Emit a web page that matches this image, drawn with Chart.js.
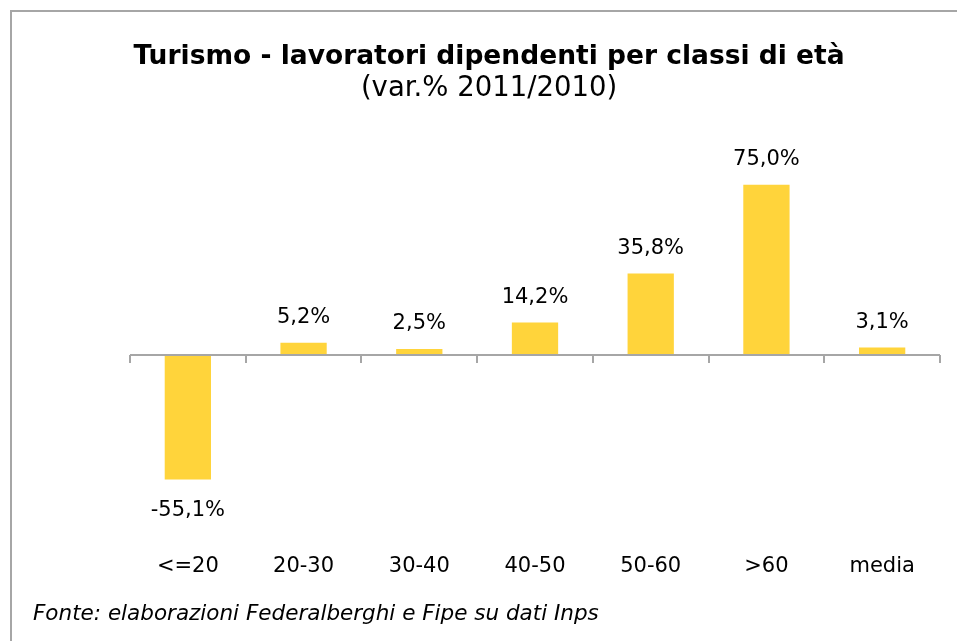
<!DOCTYPE html>
<html>
<head>
<meta charset="utf-8">
<script src="https://cdn.jsdelivr.net/npm/chart.js@4"></script>
<style>
  html, body { margin: 0; padding: 0; background: #fff; overflow: hidden; }
  body { width: 957px; height: 641px; position: relative; font-family: 'DejaVu Sans', sans-serif; }
  #frame { position: absolute; left: 10px; top: 10px; width: 1000px; height: 700px;
           border-left: 2px solid #a6a6a6; border-top: 2px solid #a6a6a6; box-sizing: border-box; }
  #wrap { position: absolute; left: 10px; top: 10px; width: 958px; height: 631px; }
  #note { position: absolute; left: 33px; top: 600px; font-style: italic; font-size: 21.5px; color: #000; }
</style>
</head>
<body>
<div id="frame"></div>
<div id="wrap"><canvas id="myChart"></canvas></div>
<div id="note">Fonte: elaborazioni Federalberghi e Fipe su dati Inps</div>
<script>
var labels = ['<=20', '20-30', '30-40', '40-50', '50-60', '>60', 'media'];
var values = [-55.1, 5.2, 2.5, 14.2, 35.8, 75.0, 3.1];

var barColor = '#ffd43b';
var axisColor = '#a6a6a6';

function fmt(v) {
  return v.toFixed(1).replace('.', ',') + '%';
}

// zero line with short tick marks between categories
var zeroAxis = {
  id: 'zeroAxis',
  afterDatasetsDraw: function (chart) {
    var x = chart.scales.x, y = chart.scales.y, c = chart.ctx;
    var y0 = Math.round(y.getPixelForValue(0));
    var step = (x.right - x.left) / labels.length;
    c.save();
    c.strokeStyle = axisColor;
    c.lineWidth = 2;
    c.beginPath();
    c.moveTo(x.left, y0);
    c.lineTo(x.right, y0);
    for (var i = 0; i <= labels.length; i++) {
      var px = Math.round(x.left + i * step);
      c.moveTo(px, y0);
      c.lineTo(px, y0 + 8);
    }
    c.stroke();
    c.restore();
  }
};

// value labels above / below the bars
var valueLabels = {
  id: 'valueLabels',
  afterDatasetsDraw: function (chart) {
    var c = chart.ctx;
    var meta = chart.getDatasetMeta(0);
    c.save();
    c.font = '21px "DejaVu Sans"';
    c.fillStyle = '#000';
    c.textAlign = 'center';
    c.textBaseline = 'middle';
    meta.data.forEach(function (bar, i) {
      var v = values[i];
      var ty = v >= 0 ? bar.y - 25 : bar.y + 31;
      c.fillText(fmt(v), bar.x, ty);
    });
    c.restore();
  }
};

// empty side axes keep the plot inset while the title stays centred on the frame
function fixWidth(w) {
  return function (scale) { scale.width = w; };
}

var ctx = document.getElementById('myChart').getContext('2d');
var chart = new Chart(ctx, {
  type: 'bar',
  data: {
    labels: labels,
    datasets: [
      {
        data: values,
        backgroundColor: barColor,
        borderWidth: 0,
        barPercentage: 0.4,
        categoryPercentage: 1.0,
      },
    ],
  },
  options: {
    responsive: true,
    maintainAspectRatio: false,
    animation: false,
    layout: {
      padding: { left: 0, right: 0, top: 0, bottom: 44 },
    },
    plugins: {
      legend: { display: false },
      tooltip: { enabled: false },
      title: {
        display: true,
        text: 'Turismo - lavoratori dipendenti per classi di età',
        color: '#000',
        font: { family: 'DejaVu Sans', size: 26.5, weight: 'bold' },
        padding: { top: 31, bottom: 0 },
      },
      subtitle: {
        display: true,
        text: '(var.% 2011/2010)',
        color: '#000',
        font: { family: 'DejaVu Sans', size: 27.5 },
        padding: { top: 0, bottom: 45 },
      },
    },
    scales: {
      y: {
        min: -80,
        max: 90,
        grid: { display: false, drawTicks: false },
        border: { display: false },
        ticks: { display: false },
        afterFit: fixWidth(120),
      },
      yr: {
        position: 'right',
        grid: { display: false, drawTicks: false },
        border: { display: false },
        ticks: { display: false },
        afterFit: fixWidth(28),
      },
      x: {
        grid: { display: false, drawTicks: false },
        border: { display: false },
        ticks: {
          color: '#000',
          padding: 18,
          font: { family: 'DejaVu Sans', size: 21 },
        },
      },
    },
  },
  plugins: [zeroAxis, valueLabels],
});
</script>
</body>
</html>
